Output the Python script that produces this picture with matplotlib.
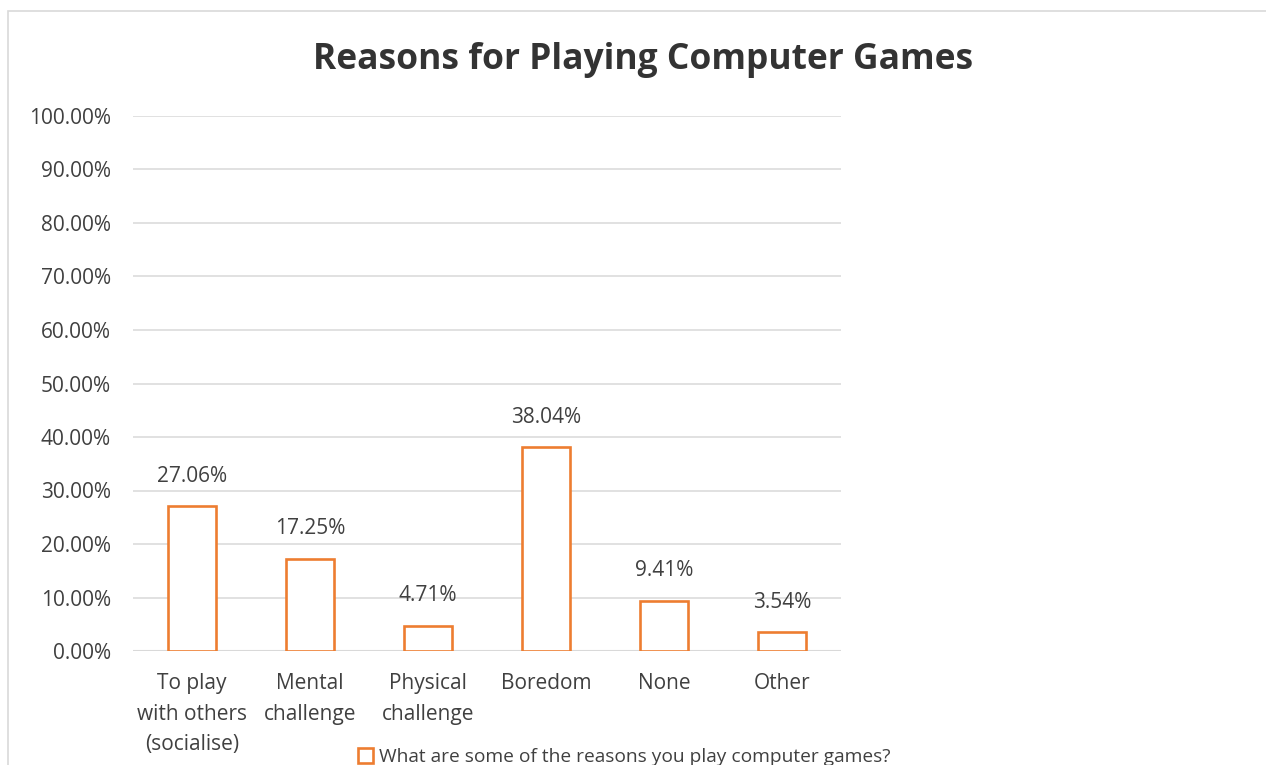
import matplotlib.pyplot as plt
from matplotlib.patches import Patch, Rectangle
import numpy as np

categories = ["To play\nwith others\n(socialise)", "Mental\nchallenge", "Physical\nchallenge",
              "Boredom", "None", "Other"]
values = [27.06, 17.25, 4.71, 38.04, 9.41, 3.54]
yticks = [0, 10, 20, 30, 40, 50, 60, 70, 80, 90, 100]
series_name = "What are some of the reasons you play computer games?"

orange = "#ED7D31"
text_col = "#404040"

plt.rcParams['font.family'] = ['Open Sans', 'DejaVu Sans']

fig = plt.figure(figsize=(12.66, 7.65), dpi=100)
ax = fig.add_axes([133 / 1266, 1 - 651 / 765, 708 / 1266, 535 / 765])

# chart border (only left/top visible, the rest is cropped)
fig.patches.append(Rectangle((8 / 1266, -0.1), 1.2, (1 - 11 / 765) + 0.1, transform=fig.transFigure,
                             fill=False, edgecolor="#d9d9d9", linewidth=1.2))

x = np.arange(len(categories))
ax.bar(x, values, width=0.41, facecolor="white", edgecolor=orange, linewidth=1.9, zorder=3)

for xi, v in zip(x, values):
    ax.annotate(f"{v:.2f}%", (xi, v), xytext=(0, 14), textcoords="offset points",
                ha="center", va="bottom", fontsize=15, color=text_col)

ax.set_xlim(-0.5, len(categories) - 0.5)
ax.set_ylim(0, 100)
ax.set_yticks(yticks)
ax.set_yticklabels([f"{t:.2f}%" for t in yticks])
ax.set_xticks(x)
ax.set_xticklabels(categories, linespacing=1.6)
ax.tick_params(axis="both", length=0, labelsize=15, labelcolor=text_col)
ax.tick_params(axis="y", pad=16)
ax.tick_params(axis="x", pad=16)
ax.grid(axis="y", color="#d9d9d9", linewidth=1.1, zorder=0)
for s in ax.spines.values():
    s.set_visible(False)
ax.axhline(0, color="#d9d9d9", linewidth=1.5, zorder=2)

fig.text(643 / 1266, 1 - 60 / 765, "Reasons for Playing Computer Games", ha="center", va="center",
         fontsize=25.5, fontweight="bold", color="#333333")

handle = Patch(facecolor="white", edgecolor=orange, linewidth=1.9)
fig.legend([handle], [series_name], loc="center", bbox_to_anchor=(624 / 1266, 1 - 757 / 765),
           frameon=False, fontsize=13.8, labelcolor=text_col, handlelength=0.8, handleheight=0.8,
           handletextpad=0.3)

fig.savefig("out.png", dpi=100)
